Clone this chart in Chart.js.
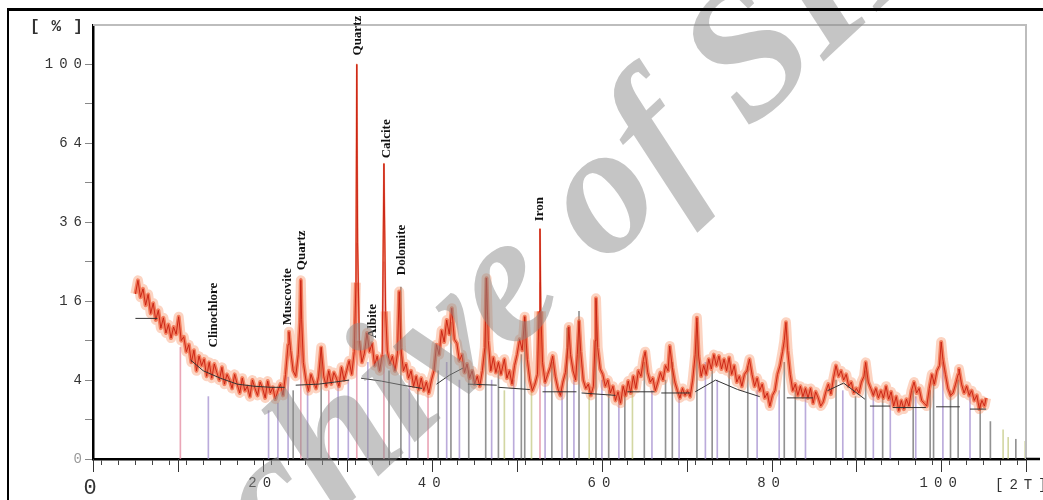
<!DOCTYPE html>
<html>
<head>
<meta charset="utf-8">
<title>XRD pattern</title>
<script src="https://cdn.jsdelivr.net/npm/chart.js@4.4.1/dist/chart.umd.min.js"></script>
<style>
  html, body { margin: 0; padding: 0; background: #fff; }
  #wrap { position: relative; width: 1043px; height: 500px; overflow: hidden; }
  #frame { position: absolute; left: 7px; top: 8px; width: 1100px; height: 600px;
           border-left: 2px solid #000; border-top: 3px solid #000; pointer-events: none; }
</style>
</head>
<body>
<div id="wrap">
  <canvas id="xrd"></canvas>
  <div id="frame"></div>
</div>
<script>
// measured scan: 2-theta (deg) and relative intensity (%)
const scanAngle = [
  5.0, 5.3, 5.6, 5.9, 6.2, 6.5, 6.8, 7.1, 7.4, 7.7,
  8.0, 8.3, 8.6, 8.9, 9.2, 9.5, 9.8, 10.1, 10.4, 10.7,
  11.0, 11.3, 11.6, 11.9, 12.2, 12.5, 12.8, 13.1, 13.4, 13.7,
  14.0, 14.3, 14.6, 14.9, 15.2, 15.5, 15.8, 16.1, 16.4, 16.7,
  17.0, 17.3, 17.6, 17.9, 18.2, 18.5, 18.8, 19.1, 19.4, 19.7,
  20.0, 20.3, 20.6, 20.9, 21.2, 21.5, 21.8, 22.1, 22.4, 22.7,
  23.0, 23.1, 23.3, 23.6, 23.9, 24.2, 24.4, 24.5, 24.6, 24.8,
  25.1, 25.4, 25.7, 26.0, 26.3, 26.6, 26.9, 27.2, 27.5, 27.8,
  28.1, 28.4, 28.7, 29.0, 29.3, 29.6, 29.9, 30.2, 30.5, 30.8,
  31.0, 31.1, 31.2, 31.4, 31.7, 32.0, 32.3, 32.6, 32.9, 33.2,
  33.5, 33.8, 34.1, 34.3, 34.5, 34.7, 35.0, 35.3, 35.6, 35.9,
  36.1, 36.3, 36.6, 36.9, 37.2, 37.5, 37.8, 38.1, 38.4, 38.7,
  39.0, 39.3, 39.6, 39.9, 40.2, 40.5, 40.8, 41.1, 41.4, 41.7,
  42.0, 42.3, 42.6, 42.9, 43.2, 43.5, 43.8, 44.1, 44.4, 44.7,
  45.0, 45.3, 45.6, 45.9, 46.2, 46.4, 46.6, 46.9, 47.2, 47.5,
  47.8, 48.1, 48.5, 48.8, 49.1, 49.4, 49.7, 50.0, 50.3, 50.6,
  50.9, 51.2, 51.5, 51.8, 52.1, 52.4, 52.6, 52.7, 52.8, 53.0,
  53.3, 53.6, 53.9, 54.2, 54.5, 54.8, 55.1, 55.4, 55.7, 56.0,
  56.1, 56.3, 56.6, 56.9, 57.1, 57.3, 57.5, 57.8, 58.1, 58.4,
  58.7, 59.0, 59.2, 59.3, 59.5, 59.8, 60.1, 60.4, 60.7, 61.0,
  61.3, 61.6, 61.9, 62.2, 62.5, 62.8, 63.1, 63.4, 63.7, 64.0,
  64.3, 64.6, 64.9, 65.1, 65.4, 65.7, 66.0, 66.3, 66.6, 66.9,
  67.2, 67.5, 67.8, 68.0, 68.3, 68.6, 68.9, 69.2, 69.5, 69.8,
  70.1, 70.4, 70.7, 71.0, 71.2, 71.4, 71.7, 72.0, 72.3, 72.6,
  72.9, 73.2, 73.5, 73.8, 74.1, 74.4, 74.7, 75.0, 75.3, 75.6,
  75.9, 76.2, 76.5, 76.8, 77.1, 77.4, 77.7, 78.0, 78.3, 78.6,
  78.9, 79.2, 79.5, 79.8, 80.1, 80.4, 80.7, 81.0, 81.3, 81.5,
  81.7, 81.9, 82.2, 82.5, 82.8, 83.1, 83.4, 83.7, 84.0, 84.3,
  84.6, 84.9, 85.2, 85.5, 85.8, 86.1, 86.4, 86.7, 87.0, 87.3,
  87.6, 87.9, 88.2, 88.5, 88.8, 89.1, 89.4, 89.7, 90.0, 90.3,
  90.6, 90.9, 91.1, 91.4, 91.7, 92.0, 92.3, 92.6, 92.9, 93.2,
  93.5, 93.8, 94.1, 94.4, 94.7, 95.0, 95.3, 95.6, 95.9, 96.2,
  96.5, 96.8, 97.1, 97.4, 97.7, 98.0, 98.3, 98.6, 98.9, 99.2,
  99.5, 99.8, 100.0, 100.2, 100.5, 100.8, 101.1, 101.4, 101.7, 102.0,
  102.1, 102.4, 102.7, 103.0, 103.3, 103.6, 103.9, 104.2, 104.5, 104.8,
  105.1, 105.3
];
const scanCounts = [
  17.5, 20.5, 16.8, 18.6, 15.2, 17.4, 13.6, 15.6, 12.4, 14.2,
  11.0, 12.8, 10.2, 11.6, 9.4, 11.2, 10.0, 13.0, 9.0, 9.6,
  7.4, 8.4, 6.0, 7.6, 5.0, 6.8, 5.6, 6.4, 4.4, 6.0,
  4.2, 5.8, 4.8, 4.0, 5.4, 3.6, 4.6, 4.0, 3.2, 4.6,
  3.6, 2.8, 4.2, 3.0, 3.4, 2.5, 4.0, 3.2, 2.6, 3.8,
  3.2, 2.4, 3.9, 2.8, 3.3, 2.3, 3.0, 3.6, 2.6, 4.6,
  8.4, 10.4, 7.6, 5.0, 4.4, 7.0, 12.0, 20.5, 12.5, 6.0,
  4.0, 3.0, 4.6, 3.8, 3.2, 4.4, 8.0, 4.4, 3.4, 5.0,
  3.6, 4.8, 4.2, 3.4, 5.4, 4.0, 5.0, 6.2, 4.6, 7.4,
  20.0, 100, 30.0, 9.0, 6.0, 7.2, 10.2, 7.4, 8.6, 5.6,
  6.8, 5.0, 7.0, 56, 14.0, 7.5, 5.8, 6.8, 5.0, 7.2,
  18.0, 8.0, 5.0, 5.8, 4.2, 5.0, 3.4, 4.4, 3.1, 4.2,
  3.0, 3.8, 2.8, 4.0, 5.0, 8.4, 7.0, 10.6, 8.8, 12.4,
  10.0, 14.6, 9.2, 8.6, 6.2, 7.0, 4.8, 5.8, 4.2, 5.0,
  3.6, 4.4, 3.4, 5.0, 8.0, 21.0, 9.0, 5.0, 6.6, 4.8,
  6.0, 4.6, 6.4, 4.2, 5.0, 3.6, 5.6, 7.0, 9.2, 7.6,
  13.0, 6.4, 4.0, 3.0, 3.6, 4.6, 14.0, 34.0, 14.0, 6.0,
  3.8, 4.6, 5.4, 6.8, 4.4, 3.2, 2.6, 3.8, 4.8, 8.0,
  11.2, 7.0, 5.0, 4.0, 7.0, 12.2, 7.4, 4.0, 3.2, 3.6,
  2.6, 3.4, 9.0, 16.6, 8.0, 5.2, 4.6, 3.4, 4.0, 2.8,
  3.4, 2.2, 2.9, 2.0, 3.4, 2.6, 3.9, 2.8, 4.4, 3.2,
  5.0, 4.4, 6.4, 7.4, 4.8, 3.8, 4.2, 3.0, 3.8, 4.8,
  4.0, 5.6, 5.0, 8.2, 5.4, 3.8, 3.0, 2.4, 3.2, 2.6,
  3.0, 2.5, 4.0, 7.0, 12.8, 6.8, 4.4, 5.6, 4.6, 6.4,
  5.2, 7.0, 5.6, 6.8, 5.2, 6.4, 5.0, 6.6, 4.6, 5.6,
  3.8, 4.4, 3.4, 4.6, 5.0, 6.4, 4.6, 3.4, 4.2, 3.0,
  3.6, 2.4, 2.8, 1.8, 2.6, 3.0, 4.6, 5.6, 7.4, 9.0,
  12.0, 7.6, 4.6, 3.0, 3.6, 2.6, 3.4, 2.5, 3.2, 2.4,
  3.2, 2.0, 2.9, 2.4, 1.8, 2.1, 2.9, 3.6, 2.7, 4.2,
  5.6, 4.4, 5.0, 4.0, 4.6, 3.4, 3.8, 2.8, 3.2, 2.8,
  3.8, 4.4, 6.0, 3.8, 3.2, 2.6, 3.2, 2.4, 3.0, 2.4,
  3.4, 2.3, 2.9, 1.8, 2.5, 1.5, 2.2, 1.6, 2.3, 1.8,
  3.0, 3.8, 2.8, 3.2, 2.2, 2.0, 1.8, 3.2, 4.6, 3.6,
  5.0, 5.6, 8.8, 6.4, 4.6, 3.2, 2.6, 2.8, 3.6, 4.6,
  5.2, 3.6, 2.8, 3.4, 2.6, 3.0, 2.2, 2.6, 1.6, 2.2,
  1.8, 2.4
];

// fitted background (null = gap between segments)
const bgAngle = [5.0, 7.6, 9.0, 11.5, 13.0, 15.0, 17.0, 19.0, 21.0, 22.6, 23.2,
  23.9, 26.6, 28.5, 30.2, 30.9, 31.6, 34.0, 36.5, 38.8, 39.6, 40.5, 42.0, 43.6, 43.9,
  44.2, 47.6, 47.7, 47.8, 51.5, 52.0, 53.0, 57.0, 57.3, 57.6, 61.6, 62.3, 63.0, 66.2, 66.6,
  67.0, 70.4, 70.7, 71.0, 73.4, 76.0, 78.6, 80.0, 81.8, 84.9, 85.7, 86.6, 88.5, 91.0, 91.3,
  91.6, 94.0, 94.15, 94.3, 98.2, 98.8, 99.4, 102.2, 102.8, 103.4, 105.3];
const bgLevel = [12.7, 12.7, null, 6.3, 5.0, 4.2, 3.6, 3.4, 3.3, 3.3, null,
  3.5, 3.6, 3.8, 4.0, null, 4.2, 3.9, 3.5, 3.2, null, 3.6, 4.5, 5.3, null,
  3.6, 3.5, null, 3.3, 3.1, null, 2.9, 2.9, null, 2.8, 2.6, null, 2.9, 2.9, null,
  2.8, 2.8, null, 2.9, 4.0, 3.1, 2.5, null, 2.4, 2.4, null, 3.0, 3.7, 2.3, null,
  1.8, 1.8, null, 1.7, 1.7, null, 1.75, 1.75, null, 1.6, 1.6];

// reference card sticks (2-theta, relative intensity %)
const grayAngle = [23.6, 26.9, 34.9, 36.3, 38.3, 40.7, 42.2, 44.3, 46.3, 47.8, 50.5, 50.9, 54.1,
  55.9, 57.3, 59.3, 60.8, 62.7, 65.0, 67.5, 68.3, 71.2, 73.0, 75.0, 77.2, 81.5, 82.8, 87.6,
  89.9, 91.1, 93.1, 96.7, 98.7, 99.1, 101.1, 102.0, 104.6, 105.8, 108.8];
const grayHeight = [3, 8, 5, 19, 3, 5, 12, 5, 21, 5, 7, 13, 6,
  11, 14, 16, 3, 3, 6, 4, 6, 12, 5, 5, 5.5, 6, 3, 4,
  2.5, 5, 2.5, 3, 3, 4, 3, 4, 2, 0.9, 0.25];
const purpleAngle = [13.6, 20.7, 21.8, 23.0, 25.3, 28.9, 30.1, 32.4, 37.3, 41.7, 43.2, 47.0,
  49.6, 53.3, 55.3, 56.7, 60.0, 62.0, 65.9, 69.1, 72.2, 73.6, 78.3, 80.9, 84.0, 88.4, 92.0,
  94.0, 97.0, 100.2, 103.4];
const purpleHeight = [2.5, 1.5, 2, 4.3, 3, 3.5, 4, 6, 4, 6, 4, 4,
  4, 4, 3, 4, 4, 2.5, 3, 2.5, 6, 4, 3, 3, 3, 3, 3,
  2.5, 2.5, 6, 3];
const pinkAngle = [10.3, 24.5, 27.8, 31.1, 34.3, 39.5, 52.7];
const pinkHeight = [8, 21, 3, 30, 25, 3, 20];
const oliveAngle = [48.5, 51.7, 58.5, 63.6, 107.3, 107.9, 109.9];
const oliveHeight = [3, 3, 3, 3, 0.55, 0.3, 0.2];

// phase labels: name, 2-theta, intensity where the label starts
const phaseNames = ['Clinochlore', 'Muscovite', 'Quartz', 'Quartz', 'Albite', 'Calcite', 'Dolomite', 'Iron'];
const phaseAngle = [14.2, 23.0, 24.6, 31.2, 33.0, 34.6, 36.4, 52.6];
const phaseLevel = [8.0, 11.5, 22.9, 104.6, 9.4, 58.1, 21.7, 36.3];

// axis ticks
const yTickValues = [0, 1, 4, 9, 16, 25, 36, 49, 64, 81, 100];
const yLabelValues = [0, 4, 16, 36, 64, 100];

// square-root intensity axis, as used by the diffractometer software
class SqrtScale extends Chart.LinearScale {
  getPixelForValue(value) {
    const lo = Math.sqrt(this.min), hi = Math.sqrt(this.max);
    return this.getPixelForDecimal((Math.sqrt(Math.max(value, 0)) - lo) / (hi - lo));
  }
  getValueForPixel(pixel) {
    const lo = Math.sqrt(this.min), hi = Math.sqrt(this.max);
    const s = lo + this.getDecimalForPixel(pixel) * (hi - lo);
    return s * s;
  }
}
SqrtScale.id = 'sqrt';
SqrtScale.defaults = Chart.LinearScale.defaults;
Chart.register(SqrtScale);

function pairs(xs, ys) {
  return xs.map((x, i) => ({ x: x, y: ys[i] }));
}

function sticks(xs, ys, color) {
  return {
    type: 'bar', data: pairs(xs, ys), backgroundColor: color,
    barThickness: 1, grouped: false, order: 6
  };
}

// thinner halo on the tall narrow peaks
function peakWidth(wide, narrow) {
  return c => (Math.max(c.p0.parsed.y, c.p1.parsed.y) > 22 ? narrow : wide);
}

const xrdExtras = {
  id: 'xrdExtras',
  beforeDraw(chart) { chart.ctx.letterSpacing = '6px'; },
  beforeDatasetsDraw(chart) { chart.ctx.letterSpacing = '0px'; },
  afterDatasetsDraw(chart) {
    const { ctx, chartArea: a, scales: { x, y } } = chart;
    ctx.save();
    ctx.strokeStyle = '#bdbdbd';
    ctx.lineWidth = 2;
    ctx.beginPath();
    ctx.moveTo(a.left, a.top);
    ctx.lineTo(a.right, a.top);
    ctx.lineTo(a.right, a.bottom);
    ctx.stroke();

    // x axis runs on past the frame, longer ticks every 10 degrees
    ctx.strokeStyle = '#000';
    ctx.lineWidth = 2.5;
    ctx.beginPath();
    ctx.moveTo(a.right, a.bottom);
    ctx.lineTo(a.right + 14, a.bottom);
    ctx.stroke();
    ctx.strokeStyle = '#333';
    ctx.lineWidth = 1;
    ctx.beginPath();
    for (let v = 0; v <= x.max; v += 10) {
      const px = Math.round(x.getPixelForValue(v)) + 0.5;
      ctx.moveTo(px, a.bottom);
      ctx.lineTo(px, a.bottom + 13);
    }
    ctx.stroke();

    // phase names
    ctx.fillStyle = '#111';
    ctx.font = 'bold 13px "Liberation Serif"';
    ctx.textAlign = 'left';
    ctx.textBaseline = 'middle';
    phaseNames.forEach((name, i) => {
      ctx.save();
      ctx.translate(x.getPixelForValue(phaseAngle[i]), y.getPixelForValue(phaseLevel[i]));
      ctx.rotate(-Math.PI / 2);
      ctx.fillText(name, 0, 0);
      ctx.restore();
    });

    // axis units
    ctx.fillStyle = '#333';
    ctx.letterSpacing = '12px';
    ctx.font = 'bold 16px "Liberation Mono"';
    ctx.textAlign = 'left';
    ctx.fillText('[%]', 30, a.top + 2);
    ctx.letterSpacing = '6px';
    ctx.font = '14px "Liberation Mono"';
    ctx.fillText('[2T]', a.right - 31, a.bottom + 26);
    ctx.restore();
  },
  afterDraw(chart) {
    const ctx = chart.ctx;
    ctx.save();
    ctx.letterSpacing = '0px';
    ctx.translate(chart.width * 0.5, chart.height * 0.555);
    ctx.rotate(-43 * Math.PI / 180);
    ctx.font = 'italic bold 185px "Liberation Serif"';
    ctx.fillStyle = 'rgba(140,140,140,0.5)';
    ctx.textAlign = 'center';
    ctx.textBaseline = 'middle';
    ctx.fillText('Archive of SID', 0, 0);
    ctx.restore();
  }
};

const scanPoints = pairs(scanAngle, scanCounts);

new Chart(document.getElementById('xrd'), {
  type: 'line',
  data: {
    datasets: [
      {
        data: scanPoints, borderColor: 'rgba(246,120,65,0.32)', borderWidth: 10,
        borderJoinStyle: 'round', pointRadius: 0, tension: 0, order: 5,
        segment: { borderWidth: peakWidth(10, 2) }
      },
      {
        data: scanPoints, borderColor: 'rgba(238,78,35,0.62)', borderWidth: 4,
        borderJoinStyle: 'round', pointRadius: 0, tension: 0, order: 4,
        segment: { borderWidth: peakWidth(4, 1.5) }
      },
      {
        data: scanPoints, borderColor: 'rgba(200,30,15,0.9)',
        borderWidth: 1, pointRadius: 0, tension: 0, order: 3
      },
      {
        data: pairs(bgAngle, bgLevel), borderColor: '#333', borderWidth: 1,
        pointRadius: 0, tension: 0, spanGaps: false, order: 2
      },
      sticks(grayAngle, grayHeight, 'rgba(110,110,110,0.75)'),
      sticks(purpleAngle, purpleHeight, 'rgba(170,150,210,0.8)'),
      sticks(pinkAngle, pinkHeight, 'rgba(230,150,170,0.85)'),
      sticks(oliveAngle, oliveHeight, 'rgba(200,205,140,0.8)')
    ]
  },
  options: {
    responsive: true,
    maintainAspectRatio: false,
    animation: false,
    events: [],
    layout: { padding: { left: 13, top: 25, right: 17, bottom: 5 } },
    plugins: { legend: { display: false }, tooltip: { enabled: false } },
    scales: {
      x: {
        type: 'linear', min: 0, max: 110, offset: false,
        afterFit: s => { s.height = 36; },
        grid: { drawOnChartArea: false, tickLength: 6, color: '#444', lineWidth: 1 },
        border: { color: '#000', width: 2.5 },
        ticks: {
          stepSize: 2, autoSkip: false, maxRotation: 0, padding: 10, color: '#333',
          font: c => ({ family: 'Liberation Mono', size: c.tick && c.tick.value === 0 ? 22 : 14 }),
          callback: v => (v % 20 === 0 && v <= 100) ? String(v) : ''
        }
      },
      y: {
        type: 'sqrt', min: 0, max: 121,
        afterFit: s => { s.width = 80; },
        afterBuildTicks: s => { s.ticks = yTickValues.map(v => ({ value: v })); },
        grid: { drawOnChartArea: false, tickLength: 8, color: '#888', lineWidth: 1 },
        border: { color: '#000', width: 2.5 },
        ticks: {
          padding: -3,
          color: c => (c.tick && c.tick.value === 0 ? '#999' : '#333'),
          font: { family: 'Liberation Mono', size: 14 },
          callback: v => (yLabelValues.includes(v) ? String(v) : '')
        }
      }
    }
  },
  plugins: [xrdExtras]
});
</script>
</body>
</html>
